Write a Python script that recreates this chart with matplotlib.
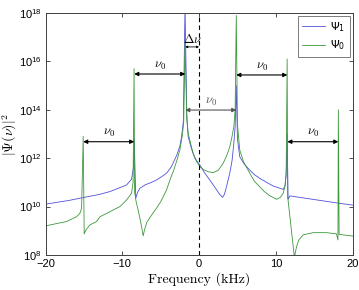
import numpy as np
import matplotlib
matplotlib.use("Agg")
import matplotlib.pyplot as plt

plt.rcParams['font.family'] = ['Liberation Sans', 'DejaVu Sans']

# Psi_0 (green): frequency [kHz], log10 |Psi|^2
f_psi0 = [-20, -18.5, -17.27, -15.96, -15.53, -15.31, -15.1, -14.97, -14.75, -14.23, -13.36,
          -12.9, -11.6, -10.3, -9.45, -8.8, -8.6, -8.47, -8.4, -8.2, -7.9, -7.6, -7.4, -7.28,
          -7.1, -6.8, -6.4, -5.98, -5.5, -5.0, -4.23, -3.8, -3.3, -2.9, -2.5, -2.2, -2.0,
          -1.83, -1.6, -1.42, -1.1, -0.77, -0.3, 0.1, 0.6, 1.2, 1.84, 2.5, 3.14, 3.6, 4.0,
          4.3, 4.53, 4.7, 4.85, 5.0, 5.3, 5.8, 6.6, 7.2, 7.9, 8.5, 9.2, 10.1, 10.6, 10.96,
          11.2, 11.35, 11.48, 11.55, 12.39, 12.45, 12.55, 12.7, 13.0, 13.57, 14.87, 16.6,
          17.9, 18.1, 18.15, 18.25, 19.0, 20]
l_psi0 = [9.2, 9.3, 9.38, 9.58, 9.72, 9.93, 12.9, 8.87, 9.03, 9.24, 9.38,
          9.58, 9.79, 10.0, 10.27, 10.55, 11.0, 15.7, 10.6, 10.2, 9.8, 9.35, 9.0, 8.79,
          9.05, 9.35, 9.55, 9.74, 9.95, 10.2, 10.69, 11.1, 11.5, 11.9, 12.34, 12.9, 13.5,
          16.8, 13.6, 13.04, 12.6, 12.2, 11.85, 11.65, 11.52, 11.44, 11.4, 11.5, 11.79, 12.1, 12.47,
          12.9, 13.3, 14.0, 17.9, 13.4, 12.34, 11.85, 11.38, 11.05, 10.82, 10.62, 10.45, 10.3, 10.38, 10.55,
          10.85, 11.4, 16.1, 10.4, 8.0, 7.95, 8.1, 8.34, 8.62, 8.83, 8.92, 8.92,
          8.87, 8.62, 14.0, 8.85, 8.82, 8.78]

# Psi_1 (blue)
f_psi1 = [-20, -17, -15.1, -13, -11.6, -9.45, -8.8, -8.55, -8.45, -8.25, -8.0, -7.7, -7.0,
          -6.2, -5.54, -4.8, -4.23, -3.6, -2.9, -2.5, -2.28, -2.05, -1.83, -1.6, -1.42,
          -1.0, -0.55, 0.1, 0.7, 1.4, 2.28, 2.7, 3.06, 3.3, 3.6, 4.0, 4.3, 4.53, 4.7, 4.85,
          5.0, 5.3, 5.9, 6.6, 7.2, 7.9, 8.8, 9.66, 10.4, 10.96, 11.2, 11.35, 11.48, 11.6,
          11.83, 18.15, 20]
l_psi1 = [10.1, 10.25, 10.37, 10.5, 10.62, 10.89, 11.13, 11.6, 12.8, 10.34, 10.6, 10.76, 10.9,
          11.0, 11.1, 11.25, 11.38, 11.65, 12.13, 12.5, 12.89, 13.5, 18.3, 13.8, 12.89,
          12.4, 12.0, 11.72, 11.4, 11.1, 10.69, 10.5, 10.38, 10.5, 10.85, 11.38, 11.9, 12.62, 13.3, 15.0,
          12.8, 12.06, 11.75, 11.51, 11.32, 11.17, 11.0, 10.85, 10.77, 10.71, 10.85, 11.3, 13.0, 10.3,
          10.44, 10.14, 10.06]

# nu_0 arrows between neighbouring peaks: start, end, log10 height
arrow_start = [-15.1, -8.45, -1.8, 4.85, 11.5]
arrow_end = [-8.45, -1.8, 4.85, 11.5, 18.15]
arrow_level = [12.68, 15.48, 13.99, 15.44, 12.68]
arrow_color = ['black', 'black', '#555555', 'black', 'black']

# Delta nu arrow
dnu_start, dnu_end, dnu_level = -1.8, 0.0, 16.6

fig = plt.figure(figsize=(3.59, 2.90), dpi=100)
ax = fig.add_axes([0.127, 0.121, 0.855, 0.834])

ax.plot(f_psi1, 10.0 ** np.array(l_psi1), color='#5050dc', lw=0.6, label=r'$\Psi_1$')
ax.plot(f_psi0, 10.0 ** np.array(l_psi0), color='#3c983c', lw=0.6, label=r'$\Psi_0$')

ax.axvline(0, color='black', ls='--', lw=0.8, dashes=(4, 3))

ax.set_yscale('log')
ax.set_xlim(-20, 20)
ax.set_ylim(1e8, 1e18)
ax.set_xticks([-20, -10, 0, 10, 20])
ax.set_yticks([1e8, 1e10, 1e12, 1e14, 1e16, 1e18])
ax.minorticks_off()
ax.tick_params(direction='in', length=3, width=0.6, labelsize=8, top=True, right=True,
               colors='#333333', labelcolor='black', pad=3)
for sp in ax.spines.values():
    sp.set_color('#404040')
    sp.set_linewidth(0.7)

for x0, x1, lv, c in zip(arrow_start, arrow_end, arrow_level, arrow_color):
    y = 10.0 ** lv
    ax.annotate('', xy=(x1, y), xytext=(x0, y),
                arrowprops=dict(arrowstyle='<|-|>', color=c, lw=0.8, mutation_scale=6,
                                shrinkA=0, shrinkB=0))
    ax.annotate(r'$\nu_0$', xy=((x0 + x1) / 2, y), xytext=(0, 6), textcoords='offset points',
                ha='center', va='center', fontsize=9, color=c, math_fontfamily='cm')

y = 10.0 ** dnu_level
ax.annotate('', xy=(dnu_end, y), xytext=(dnu_start, y),
            arrowprops=dict(arrowstyle='<|-|>', color='black', lw=0.6, mutation_scale=3,
                            shrinkA=0, shrinkB=0))
ax.annotate(r'$\Delta\nu$', xy=((dnu_start + dnu_end) / 2, y), xytext=(0, 5.5),
            textcoords='offset points', ha='center', va='center', fontsize=9,
            math_fontfamily='cm')

ax.set_xlabel('Frequency (kHz)', fontsize=10, family='cmr10', labelpad=2)
ax.set_ylabel(r'$|\Psi(\nu)|^2$', fontsize=10, math_fontfamily='cm')
ax.yaxis.set_label_coords(-0.087, 0.5)

leg = ax.legend(loc='upper right', fontsize=8, borderaxespad=0.25, handlelength=2.0,
                fancybox=False, edgecolor='#666666', framealpha=1, borderpad=0.4,
                labelspacing=0.4, handletextpad=0.5)
leg.get_frame().set_linewidth(0.6)

fig.savefig('out.png', dpi=100)
